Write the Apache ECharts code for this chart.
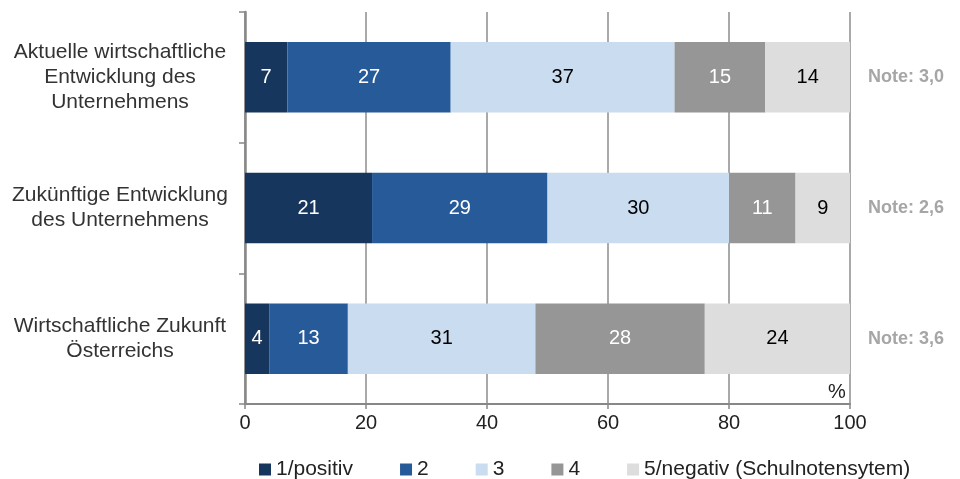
<!DOCTYPE html>
<html>
<head>
    <meta charset="utf-8"/>
    <title>Einschätzung Entwicklung</title>
    <script src="https://cdn.jsdelivr.net/npm/echarts@6/dist/echarts.min.js"></script>
    <style>
        html, body { margin: 0; padding: 0; background: #fff; }
        #chart { width: 960px; height: 479px; }
    </style>
</head>
<body>
<div id="chart"></div>
<script>
    // Daten
    var categories = ['Aktuelle wirtschaftliche\nEntwicklung des\nUnternehmens', 'Zukünftige Entwicklung\ndes Unternehmens', 'Wirtschaftliche Zukunft\nÖsterreichs'];
    var notes = ['Note: 3,0', 'Note: 2,6', 'Note: 3,6'];
    var seriesNames = ['1/positiv', '2', '3', '4', '5/negativ (Schulnotensytem)'];
    var positiv = [7, 21, 4];
    var note2 = [27, 29, 13];
    var note3 = [37, 30, 31];
    var note4 = [15, 11, 28];
    var negativ = [14, 9, 24];
    var xTicks = [0, 20, 40, 60, 80, 100];

    var colors = ['#17365d', '#275a98', '#c9dcf0', '#969696', '#dddddd'];
    var labelColors = ['#fff', '#fff', '#000', '#fff', '#000'];
    var values = [positiv, note2, note3, note4, negativ];
    var font = 'Liberation Sans, Arial, sans-serif';

    var series = [];
    for (var i = 0; i < seriesNames.length; i++) {
        series.push({
            name: seriesNames[i],
            type: 'bar',
            stack: 'total',
            data: values[i],
            barCategoryGap: '46%',
            itemStyle: { color: colors[i] },
            label: {
                show: true,
                position: 'inside',
                color: labelColors[i],
                fontFamily: font,
                fontSize: 20
            }
        });
    }

    var chart = echarts.init(document.getElementById('chart'));
    chart.setOption({
        animation: false,
        textStyle: { fontFamily: font },
        grid: { left: 245, right: 110, top: 12, bottom: 75 },
        legend: {
            top: 454,
            left: 254,
            itemWidth: 12,
            itemHeight: 12,
            itemGap: 47,
            icon: 'rect',
            textStyle: { fontSize: 21, color: '#222', fontFamily: font },
            data: seriesNames
        },
        xAxis: {
            type: 'value',
            min: 0,
            max: 100,
            interval: 20,
            axisLine: { show: true, lineStyle: { color: '#888', width: 2 } },
            axisTick: { show: true, length: 5, lineStyle: { color: '#888', width: 1.5 } },
            splitLine: { show: true, lineStyle: { color: '#8c8c8c', width: 1.5 } },
            axisLabel: {
                color: '#222', fontSize: 20, margin: 9,
                formatter: function (v) { return xTicks.indexOf(v) >= 0 ? v : ''; }
            }
        },
        yAxis: [{
            type: 'category',
            inverse: true,
            data: categories,
            axisLine: { show: true, lineStyle: { color: '#888', width: 2.5 } },
            axisTick: { show: true, length: 6, lineStyle: { color: '#888', width: 1.5 } },
            axisLabel: {
                color: '#333', fontSize: 21, lineHeight: 25, align: 'center',
                margin: 125
            }
        }, {
            type: 'category',
            inverse: true,
            position: 'right',
            data: notes,
            axisLine: { show: false },
            axisTick: { show: false },
            axisLabel: {
                color: '#a6a6a6', fontSize: 18, fontWeight: 'bold', margin: 18
            }
        }],
        graphic: [{
            type: 'text',
            left: 828,
            top: 382,
            style: { text: '%', fontSize: 20, fill: '#222', fontFamily: font }
        }],
        series: series
    });
</script>
</body>
</html>
